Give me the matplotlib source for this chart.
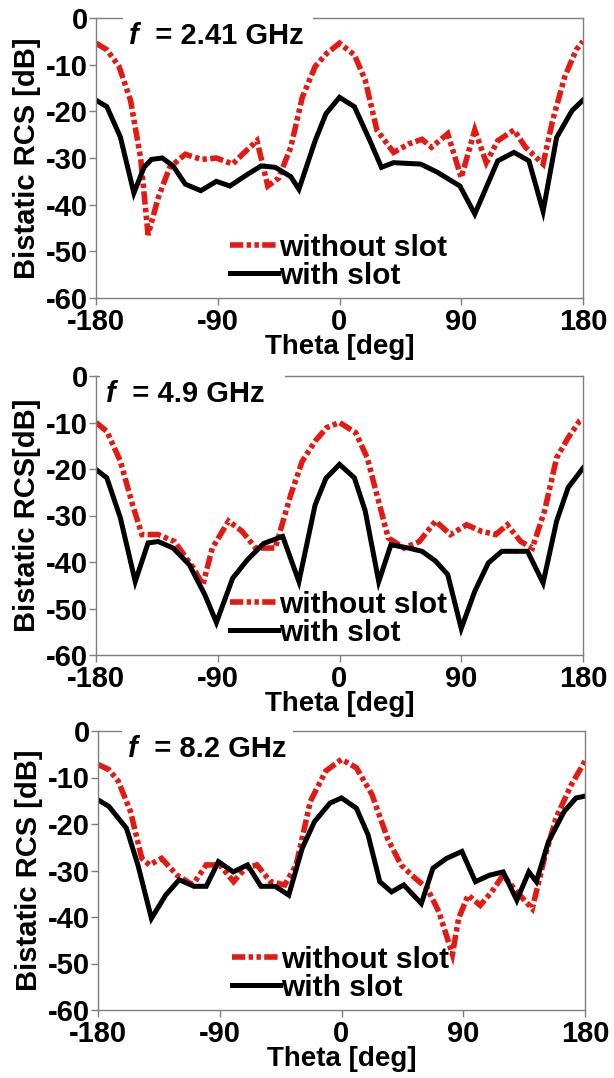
import matplotlib
matplotlib.use('Agg')
import matplotlib.pyplot as plt
from matplotlib.patches import Rectangle

plt.rcParams['font.family'] = ['Liberation Sans', 'DejaVu Sans']
plt.rcParams['font.weight'] = 'bold'

# ---------------- data ----------------
freq_labels = ["= 2.41 GHz", "= 4.9 GHz", "= 8.2 GHz"]
ylabels = ["Bistatic RCS [dB]", "Bistatic RCS[dB]", "Bistatic RCS [dB]"]
xlabel = "Theta [deg]"
series_names = ["without slot", "with slot"]
xticks = [-180, -90, 0, 90, 180]
yticks = [0, -10, -20, -30, -40, -50, -60]

# 2.41 GHz
th1_with = [-180, -172, -162, -152, -144.5, -139, -131, -123, -114, -102.5, -91, -81, -68, -58, -47.5,
            -36, -30, -18, -10, 0, 11, 22.5, 31, 40, 60, 72, 89, 100, 117, 129, 140, 150.5, 160.5, 172, 180]
rcs1_with = [-17.6, -19, -25.5, -37.5, -32, -30.3, -30, -31.7, -35.6, -37, -35, -36, -33.5, -31.7, -32,
             -34, -36.7, -26.3, -20.5, -17, -19, -26.3, -32, -31, -31.3, -33, -36, -42, -30.6, -28.8, -30.6,
             -41.4, -25.6, -19.8, -17.6]
th1_without = [-180, -172, -163, -154.5, -147, -141.5, -134, -125.5, -114, -102, -91, -79, -71, -61, -53,
               -45, -36, -27.5, -18, -9.5, 0, 11, 19, 27.6, 40, 51, 61, 68, 80, 90, 100, 108.5, 117, 129,
               137.5, 150.5, 157.5, 166.5, 175, 180]
rcs1_without = [-5.4, -6.8, -10.4, -17.6, -30, -46.5, -38.5, -32, -29.2, -30.3, -30, -31.3, -29, -26.3, -36,
                -34.3, -27.7, -17, -10.4, -7.6, -5.4, -7.9, -13.3, -24, -28.8, -27, -26, -27.7, -24.8, -34.2,
                -24, -31, -26.3, -24, -27.7, -31.3, -22, -12.6, -6.8, -5]

# 4.9 GHz
th2_with = [-180, -172, -162, -151, -141.5, -134, -123, -111, -99.6, -91, -79, -68, -56, -42, -30, -18, -10,
            0, 11, 19, 29, 38, 51, 61, 71, 80, 90, 100, 110, 120, 139, 150.5, 160.5, 169, 180]
rcs2_with = [-20.1, -21.9, -30.5, -44.2, -35.9, -35.6, -37, -40.6, -47, -53, -43.5, -39.5, -36, -34.5, -44.2,
             -27.7, -22, -19, -21.9, -29, -44.2, -36.3, -37, -37.7, -39.8, -42.7, -54.3, -46.3, -40.2, -37.7,
             -37.7, -44.5, -31.2, -24, -19.8]
th2_without = [-180, -172, -162, -153, -146, -134, -122, -108, -101, -94, -82, -72, -62, -47.5, -36, -27.5,
               -18, -9.5, 0, 12, 20.5, 27.6, 36, 47.8, 59, 71, 82, 94, 105, 115.5, 124, 134, 142.6, 151.6,
               160.5, 169, 177.4, 180]
rcs2_without = [-10, -11.9, -18.3, -27.7, -34.1, -34.1, -35.6, -41.3, -44.9, -37, -31.2, -33.4, -37, -37,
                -25.5, -18.3, -14, -11.1, -10, -12.2, -17.6, -25.5, -34.8, -37, -35.6, -31.2, -34.1, -32,
                -33.4, -34.1, -32, -35.6, -37, -29, -17.6, -13.3, -9.7, -9.3]

# 8.2 GHz
th3_with = [-180, -172, -159, -150.5, -140.5, -130, -120, -109, -100, -91, -80, -69.5, -59.5, -49, -39, -29,
            -20, -8.5, 0, 11, 19.6, 28.3, 37, 46, 59, 67.6, 77.6, 89, 99, 109.5, 119.5, 129.6, 138.5, 144,
            153, 164.6, 173.4, 180]
rcs3_with = [-14.8, -16.2, -20.9, -28.8, -40.3, -35.3, -32, -33.4, -33.4, -28.1, -30.3, -28.8, -33.4, -33.4,
             -35.3, -25.2, -19.5, -15.5, -14.4, -16.6, -22.3, -32.4, -34.6, -33.1, -37.1, -29.5, -27.4, -25.9,
             -32.4, -31, -30.3, -36.4, -30.3, -32.4, -23.8, -17.3, -14.4, -14]
th3_without = [-180, -172, -165, -156, -147.6, -142, -133, -121.6, -110, -100, -90, -79.8, -71, -62.5, -52.5,
               -42, -33.5, -23, -11.6, 0, 11, 22.6, 34, 44, 54.6, 63.3, 72, 82, 86.6, 93.6, 102.5, 111,
               119.5, 129.6, 141, 150, 158.6, 170, 180]
rcs3_without = [-7.2, -8.3, -10.8, -17.3, -27.4, -28.8, -27.4, -31, -33.1, -28.8, -28.8, -32.4, -29.5, -28.8,
                -32.4, -33.1, -28.8, -15.1, -8.6, -6.1, -7.9, -13.7, -23.1, -28.8, -31.7, -33.8, -38.9, -48,
                -40.3, -35.3, -37.5, -34.6, -31, -34.6, -38.2, -27.4, -18.7, -11.5, -6.5]

panels = [
    (th1_without, rcs1_without, th1_with, rcs1_with),
    (th2_without, rcs2_without, th2_with, rcs2_with),
    (th3_without, rcs3_without, th3_with, rcs3_with),
]

# ---------------- layout ----------------
W, H = 614, 1078
fig = plt.figure(figsize=(W / 100, H / 100), dpi=100)

# pixel boxes (left, top, right, bottom)
boxes = [(96, 18, 583, 298), (96, 376, 583, 655), (98, 731, 585, 1010)]
# white label box horizontal span (pixels)
label_spans = [(123, 313), (100, 285), (122, 293)]

RED = '#e41a12'
for i, ((tw, rw, ts, rs), (l, t, r, b)) in enumerate(zip(panels, boxes)):
    ax = fig.add_axes([l / W, 1 - b / H, (r - l) / W, (b - t) / H])
    ax.plot(tw, rw, color=RED, lw=4.0, dashes=(2.4, 0.6, 0.8, 0.6, 0.8, 0.6), label=series_names[0],
            dash_joinstyle='miter', dash_capstyle='butt')
    ax.plot(ts, rs, color='black', lw=3.6, label=series_names[1], solid_joinstyle='miter')
    ax.set_xlim(-180, 180)
    ax.set_ylim(-60, 0)
    ax.set_xticks(xticks)
    ax.set_yticks(yticks)
    ax.set_xticklabels([str(v) for v in xticks])
    ax.set_yticklabels([str(v) for v in yticks])
    for sp in ax.spines.values():
        sp.set_color('#7f7f7f')
        sp.set_linewidth(1.0)
    ax.tick_params(direction='out', length=5, width=1, color='#7f7f7f', labelsize=21, pad=1)
    ax.tick_params(axis='x', pad=2)
    ax.set_ylabel(ylabels[i], fontsize=21, fontweight='bold', labelpad=3)
    ax.set_xlabel(xlabel, fontsize=20, fontweight='bold', labelpad=-1)

    # white box over top spine + frequency label
    x0, x1 = label_spans[i]
    fx0 = (x0 - l) / (r - l)
    fx1 = (x1 - l) / (r - l)
    ax.add_patch(Rectangle((fx0, 0.88), fx1 - fx0, 0.14, transform=ax.transAxes,
                           facecolor='white', edgecolor='none', zorder=5, clip_on=False))
    tf = ax.text(fx0 + 0.012, 0.935, 'f', transform=ax.transAxes, fontsize=21, fontweight='bold',
                 style='italic', va='center', ha='left', zorder=6)
    ax.annotate('  ' + freq_labels[i], xy=(1, 0), xycoords=tf, fontsize=21, fontweight='bold',
                va='bottom', ha='left', zorder=6)

    leg = ax.legend(loc='lower left', bbox_to_anchor=(0.275, 0.03), frameon=False, fontsize=21.5,
                    handlelength=1.6, handletextpad=0.05, labelspacing=0.0, borderpad=0,
                    borderaxespad=0)

fig.savefig('out.png', dpi=100)
